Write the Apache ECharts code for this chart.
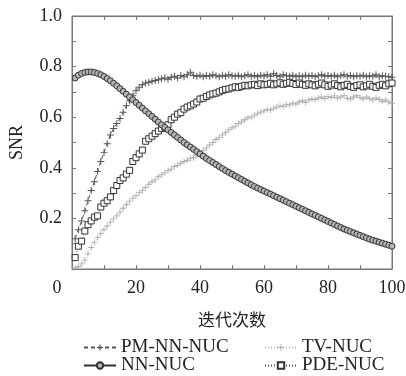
<!DOCTYPE html>
<html>
<head>
<meta charset="utf-8">
<script src="https://cdn.jsdelivr.net/npm/echarts@6/dist/echarts.min.js"></script>
<style>
  html, body { margin: 0; padding: 0; background: #fff; }
  #chart { width: 406px; height: 376px; }
</style>
</head>
<body>
<div id="chart"></div>
<script>
// 迭代次数 1..100
var iters = Array.from({ length: 100 }, function (_, i) { return i + 1 })

// SNR 曲线数据
var pmNN = [
  0.12, 0.155, 0.19, 0.23, 0.27, 0.31, 0.345, 0.385, 0.425, 0.46,
  0.495, 0.53, 0.555, 0.575, 0.595, 0.62, 0.645, 0.665, 0.685, 0.705,
  0.718, 0.728, 0.735, 0.738, 0.742, 0.745, 0.748, 0.752, 0.755, 0.75,
  0.758, 0.762, 0.755, 0.765, 0.76, 0.768, 0.778, 0.765, 0.762, 0.766,
  0.76, 0.765, 0.762, 0.768, 0.764, 0.76, 0.766, 0.762, 0.768, 0.764,
  0.762, 0.766, 0.76, 0.764, 0.768, 0.762, 0.765, 0.76, 0.766, 0.763,
  0.768, 0.762, 0.772, 0.765, 0.76, 0.768, 0.764, 0.762, 0.766, 0.76,
  0.764, 0.76, 0.766, 0.762, 0.765, 0.76, 0.764, 0.768, 0.762, 0.765,
  0.762, 0.766, 0.76, 0.764, 0.768, 0.762, 0.765, 0.76, 0.764, 0.762,
  0.766, 0.76, 0.764, 0.762, 0.768, 0.76, 0.764, 0.762, 0.76, 0.758
]
var nn = [
  0.755, 0.766, 0.773, 0.777, 0.779, 0.779, 0.777, 0.773, 0.768, 0.761,
  0.753, 0.744, 0.734, 0.724, 0.713, 0.702, 0.691, 0.680, 0.669, 0.658,
  0.647, 0.636, 0.625, 0.614, 0.603, 0.592, 0.581, 0.570, 0.560, 0.550,
  0.540, 0.530, 0.520, 0.510, 0.500, 0.491, 0.482, 0.473, 0.464, 0.455,
  0.446, 0.437, 0.429, 0.421, 0.413, 0.405, 0.397, 0.389, 0.382, 0.375,
  0.368, 0.361, 0.354, 0.347, 0.340, 0.333, 0.326, 0.320, 0.314, 0.308,
  0.302, 0.296, 0.290, 0.284, 0.278, 0.272, 0.266, 0.260, 0.254, 0.248,
  0.242, 0.236, 0.230, 0.224, 0.218, 0.212, 0.206, 0.200, 0.194, 0.188,
  0.182, 0.176, 0.170, 0.164, 0.158, 0.153, 0.148, 0.143, 0.138, 0.133,
  0.128, 0.123, 0.118, 0.114, 0.110, 0.106, 0.102, 0.098, 0.094, 0.090
]
var tv = [
  0.004, 0.01, 0.02, 0.035, 0.06, 0.085, 0.105, 0.125, 0.14, 0.155,
  0.17, 0.185, 0.198, 0.21, 0.225, 0.24, 0.255, 0.268, 0.28, 0.29,
  0.302, 0.31, 0.322, 0.335, 0.345, 0.352, 0.365, 0.372, 0.38, 0.39,
  0.395, 0.405, 0.41, 0.418, 0.425, 0.43, 0.437, 0.44, 0.448, 0.455,
  0.468, 0.478, 0.49, 0.5, 0.512, 0.52, 0.53, 0.54, 0.55, 0.558,
  0.565, 0.575, 0.582, 0.59, 0.598, 0.6, 0.608, 0.615, 0.62, 0.625,
  0.63, 0.628, 0.635, 0.64, 0.645, 0.642, 0.65, 0.648, 0.655, 0.652,
  0.66, 0.665, 0.658, 0.668, 0.672, 0.67, 0.676, 0.68, 0.674, 0.682,
  0.678, 0.684, 0.676, 0.68, 0.686, 0.675, 0.672, 0.68, 0.685, 0.678,
  0.672, 0.68, 0.674, 0.668, 0.676, 0.67, 0.662, 0.668, 0.66, 0.655
]
var pde = [
  0.045, 0.09, 0.11, 0.15, 0.175, 0.19, 0.205, 0.21, 0.245, 0.26,
  0.27, 0.285, 0.31, 0.33, 0.35, 0.36, 0.375, 0.39, 0.425, 0.44,
  0.455, 0.47, 0.505, 0.515, 0.525, 0.535, 0.545, 0.555, 0.56, 0.57,
  0.59, 0.6, 0.612, 0.618, 0.632, 0.64, 0.645, 0.652, 0.66, 0.672,
  0.675, 0.682, 0.688, 0.692, 0.695, 0.7, 0.706, 0.71, 0.712, 0.716,
  0.72, 0.718, 0.722, 0.726, 0.724, 0.728, 0.73, 0.725, 0.732, 0.728,
  0.73, 0.734, 0.728, 0.732, 0.736, 0.73, 0.734, 0.738, 0.733, 0.729,
  0.735, 0.73, 0.726, 0.732, 0.728, 0.724, 0.73, 0.735, 0.728, 0.722,
  0.727, 0.732, 0.725, 0.72, 0.726, 0.73, 0.722, 0.718, 0.725, 0.728,
  0.72, 0.724, 0.73, 0.722, 0.718, 0.726, 0.73, 0.724, 0.732, 0.735
]

var serif = 'Liberation Serif, Times New Roman, serif'
var plus = 'path://M4.3,0H5.7V4.3H10V5.7H5.7V10H4.3V5.7H0V4.3H4.3Z'

function pairs(arr) {
  return arr.map(function (v, i) { return [iters[i], v] })
}

var myChart = echarts.init(document.getElementById('chart'))

var tickStyle = { color: '#777' }
var legendText = { fontFamily: serif, fontSize: 19, color: '#222' }

// 每个图例单独放，排成两列两行
function oneLegend(name, left, top) {
  return {
    data: [name],
    left: left, top: top,
    itemWidth: 32, itemHeight: 8, itemGap: 0,
    textStyle: legendText
  }
}

// 上、右边框轴，只画刻度
function frameAxis(extra) {
  return Object.assign({
    type: 'value',
    axisLine: { show: true, onZero: false, lineStyle: { color: '#777', width: 1 } },
    axisTick: { show: true, inside: true, length: 4, lineStyle: tickStyle },
    minorTick: { show: true, splitNumber: 2, length: 4, lineStyle: tickStyle },
    axisLabel: { show: false },
    splitLine: { show: false }
  }, extra)
}

var option = {
  backgroundColor: '#fff',
  animation: false,
  grid: {
    left: 72, right: 14, top: 16, bottom: 107,
    outerBoundsMode: 'none',
    show: true, borderColor: '#777', borderWidth: 1
  },
  legend: [
    oneLegend('PM-NN-NUC', 78, 333),
    oneLegend('NN-NUC', 78, 351),
    oneLegend('TV-NUC', 259, 333),
    oneLegend('PDE-NUC', 259, 351)
  ],
  xAxis: [
    {
      type: 'value',
      min: 0, max: 100, interval: 20,
      name: '迭代次数',
      nameLocation: 'middle',
      nameGap: 42,
      nameTextStyle: { fontFamily: 'Noto Sans CJK SC', fontSize: 17, color: '#222' },
      axisLine: { show: true, onZero: false, lineStyle: { color: '#777', width: 1 } },
      axisTick: { show: true, inside: true, length: 4, lineStyle: tickStyle },
      minorTick: { show: true, splitNumber: 2, length: 4, lineStyle: tickStyle },
      splitLine: { show: false },
      axisLabel: {
        margin: 10,
        fontFamily: serif, fontSize: 18, color: '#222',
        formatter: function (v) { return v === 0 ? '{o|0}' : String(v) },
        rich: { o: { fontFamily: serif, fontSize: 18, color: '#222', padding: [0, 30, 0, 0] } }
      }
    },
    frameAxis({ position: 'top', min: 0, max: 100, interval: 20 })
  ],
  yAxis: [
    {
      type: 'value',
      min: 0, max: 1, interval: 0.2,
      name: 'SNR',
      nameLocation: 'middle',
      nameGap: 46,
      nameTextStyle: { fontFamily: serif, fontSize: 18, color: '#222' },
      axisLine: { show: true, onZero: false, lineStyle: { color: '#777', width: 1 } },
      axisTick: { show: true, inside: true, length: 4, lineStyle: tickStyle },
      minorTick: { show: true, splitNumber: 2, length: 4, lineStyle: tickStyle },
      splitLine: { show: false },
      axisLabel: {
        margin: 10,
        fontFamily: serif, fontSize: 18, color: '#222',
        formatter: function (v) { return v === 0 ? '' : v.toFixed(1) }
      }
    },
    frameAxis({ position: 'right', min: 0, max: 1, interval: 0.2 })
  ],
  series: [
    {
      name: 'PM-NN-NUC',
      type: 'line',
      data: pairs(pmNN),
      symbol: plus,
      symbolSize: 7,
      itemStyle: { color: '#555' },
      lineStyle: { color: '#555', width: 1, type: [4, 3] },
      z: 3
    },
    {
      name: 'NN-NUC',
      type: 'line',
      data: pairs(nn),
      symbol: 'circle',
      symbolSize: 6,
      itemStyle: { color: '#b5b5b5', borderColor: '#333', borderWidth: 1 },
      lineStyle: { color: '#333', width: 1 },
      z: 4
    },
    {
      name: 'TV-NUC',
      type: 'line',
      data: pairs(tv),
      symbol: plus,
      symbolSize: 6,
      itemStyle: { color: '#acacac' },
      lineStyle: { color: '#bbb', width: 1, type: [1, 2] },
      z: 2
    },
    {
      name: 'PDE-NUC',
      type: 'line',
      data: pairs(pde),
      symbol: 'rect',
      symbolSize: 6,
      itemStyle: { color: '#fff', borderColor: '#333', borderWidth: 1 },
      lineStyle: { color: '#555', width: 1, type: [1, 2] },
      z: 3
    },
    {
      // 上、右边框轴需要挂一个系列才会画出（不可见）
      type: 'line',
      xAxisIndex: 1,
      yAxisIndex: 1,
      data: pairs(nn),
      symbol: 'none',
      lineStyle: { opacity: 0 },
      silent: true
    }
  ]
}

option && myChart.setOption(option)
</script>
</body>
</html>
